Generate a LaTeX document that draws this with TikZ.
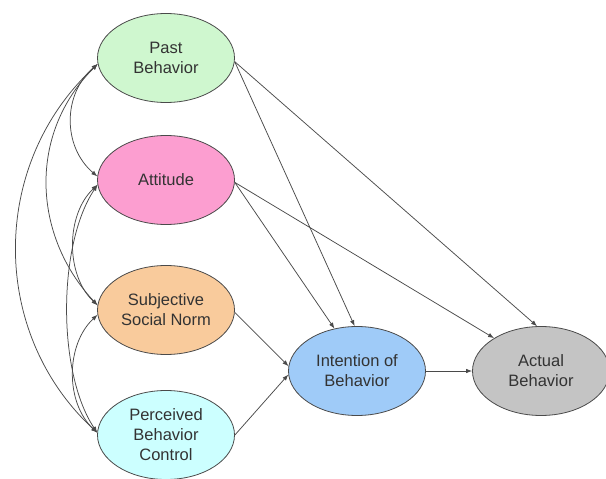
\documentclass[tikz,border=0pt]{standalone}
\usepackage{fontspec}
\setmainfont{Liberation Sans}
\usetikzlibrary{shapes.geometric,arrows.meta}
\definecolor{cpast}{HTML}{CFF7CF}
\definecolor{catt}{HTML}{FC9ED0}
\definecolor{cssn}{HTML}{F9CB9C}
\definecolor{cpbc}{HTML}{CCFFFF}
\definecolor{cint}{HTML}{9FCBF8}
\definecolor{cact}{HTML}{C4C4C4}
\definecolor{edge}{HTML}{4A4A4A}
\definecolor{txt}{HTML}{333333}
\tikzset{
  oval/.style={ellipse, draw=edge, line width=0.8pt, minimum width=137pt, minimum height=89pt,
    inner sep=0pt, align=center, text=txt, font=\fontsize{16.5}{20}\selectfont},
  link/.style={draw=edge, line width=0.75pt, -{Latex[length=6pt,width=4.5pt]}},
  corr/.style={draw=edge, line width=0.75pt, {Latex[length=6pt,width=4.5pt]}-{Latex[length=6pt,width=4.5pt]}}
}
\begin{document}
\begin{tikzpicture}[x=1pt,y=-1pt]
\useasboundingbox[fill=white] (0,0) rectangle (606,479);
\node[oval, fill=cpast] (P) at (166,58) {Past\\Behavior};
\node[oval, fill=catt] (A) at (166,180) {Attitude};
\node[oval, fill=cssn] (S) at (166,310) {Subjective\\Social Norm};
\node[oval, fill=cpbc] (C) at (166,435) {Perceived\\Behavior\\Control};
\node[oval, fill=cint] (I) at (357,371) {Intention of\\Behavior};
\node[oval, fill=cact] (B) at (541,371) {Actual\\Behavior};
% correlations
\draw[corr] (P.185) .. controls +(-35,30) and +(-35,-30) .. (A.177);
\draw[corr] (P.185) .. controls +(-70,70) and +(-65,-70) .. (S.176);
\draw[corr] (P.185) .. controls +(-108,100) and +(-108,-100) .. (C.178);
\draw[corr] (A.184) .. controls +(-32,30) and +(-32,-30) .. (S.176);
\draw[corr] (A.184) .. controls +(-40,60) and +(-40,-60) .. (C.178);
\draw[corr] (S.184) .. controls +(-32,30) and +(-32,-30) .. (C.178);
% paths
\draw[link] (P.-3) -- (I.93);
\draw[link] (P.-3) -- (B.95);
\draw[link] (A.-2) -- (I.118);
\draw[link] (A.-2) -- (B.145);
\draw[link] (S.-2) -- (I.176);
\draw[link] (C.east) -- (I.183);
\draw[link] (I.east) -- (B.west);
\end{tikzpicture}
\end{document}
